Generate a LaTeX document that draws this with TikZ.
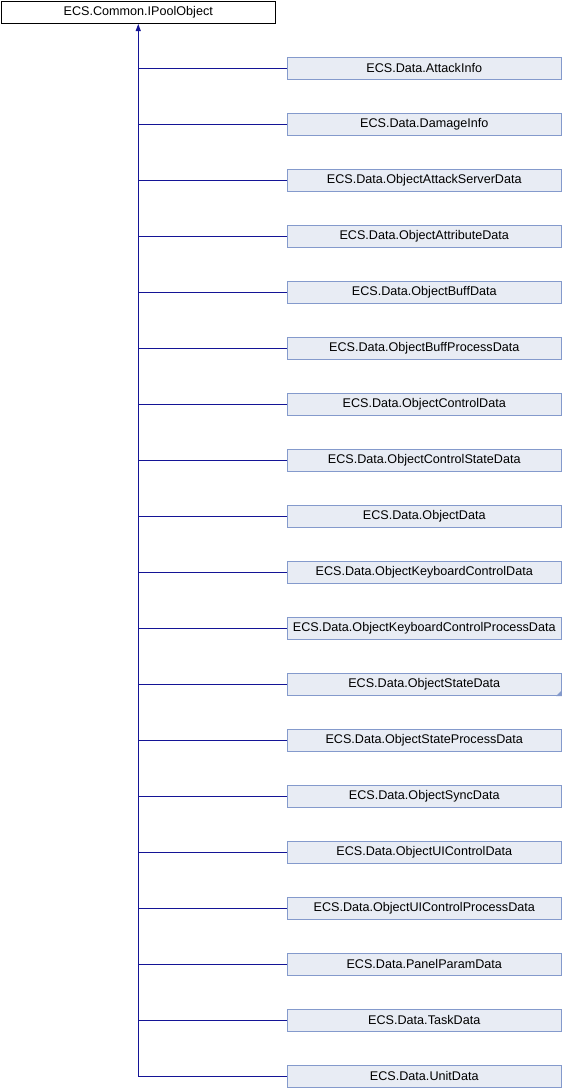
\documentclass[tikz,border=0pt]{standalone}
\usepackage{fontspec}
\setmainfont{Liberation Sans}
\usetikzlibrary{arrows.meta}
\definecolor{edgeblue}{RGB}{20,20,150}
\definecolor{boxfill}{RGB}{232,236,244}
\definecolor{boxline}{RGB}{132,154,204}
\begin{document}
\begin{tikzpicture}[x=1pt,y=-1pt,
  basebox/.style={minimum height=22.5pt, inner sep=0pt, anchor=north west, font=\fontsize{12.6}{14}\selectfont, line width=1pt},
  topbox/.style={basebox, draw=black, fill=white, minimum width=274.5pt},
  childbox/.style={basebox, draw=boxline, fill=boxfill, minimum width=274.5pt},
  inherit/.style={draw=edgeblue, line width=1pt}]
\useasboundingbox (0,0) rectangle (562,1088);
\node[topbox] (top) at (0.5,0.5) {ECS.Common.IPoolObject};
\foreach \name [count=\i from 0] in {ECS.Data.AttackInfo,ECS.Data.DamageInfo,ECS.Data.ObjectAttackServerData,ECS.Data.ObjectAttributeData,ECS.Data.ObjectBuffData,ECS.Data.ObjectBuffProcessData,ECS.Data.ObjectControlData,ECS.Data.ObjectControlStateData,ECS.Data.ObjectData,ECS.Data.ObjectKeyboardControlData,ECS.Data.ObjectKeyboardControlProcessData,ECS.Data.ObjectStateData,ECS.Data.ObjectStateProcessData,ECS.Data.ObjectSyncData,ECS.Data.ObjectUIControlData,ECS.Data.ObjectUIControlProcessData,ECS.Data.PanelParamData,ECS.Data.TaskData,ECS.Data.UnitData}
  \node[childbox] (c\i) at (286.5,{56.5+56*\i}) {\name};
\fill[boxline] (c11.south east) -- ++(0,-6) -- ++(-6,6) -- cycle;
\coordinate (spine) at (top.south |- c18.west);
\draw[inherit,-{Triangle[length=7pt,width=5pt]}] (spine) -- (top.south);
\foreach \i in {0,...,18}
  \draw[inherit] (top.south |- c\i.west) -- (c\i.west);
\end{tikzpicture}
\end{document}
